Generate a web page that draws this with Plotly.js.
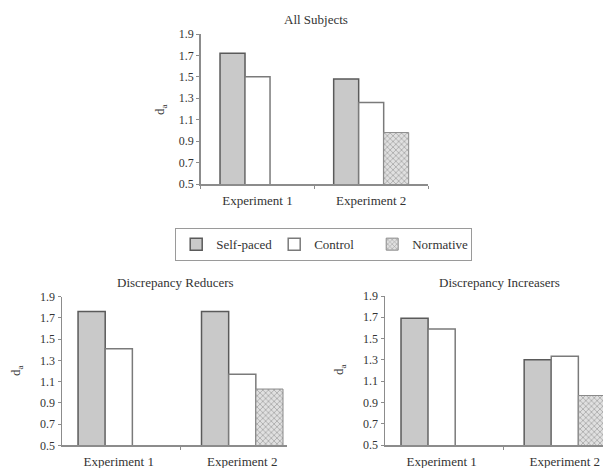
<!DOCTYPE html>
<html>
<head>
<meta charset="utf-8">
<script src="https://cdn.plot.ly/plotly-3.0.1.min.js"></script>
<style>
html, body { margin: 0; padding: 0; overflow: hidden; background: #fff; }
#chart { width: 630px; height: 468px; }
</style>
</head>
<body>
<div id="chart"></div>
<script>
// ---- data ----
const categories = ["Experiment 1", "Experiment 2"];
const seriesNames = ["Self-paced", "Control", "Normative"];
const panelTitles = ["All Subjects", "Discrepancy Reducers", "Discrepancy Increasers"];

const allSelfPaced = [1.72, 1.48];
const allControl = [1.50, 1.26];
const allNormative = [null, 0.98];

const reducersSelfPaced = [1.76, 1.76];
const reducersControl = [1.41, 1.17];
const reducersNormative = [null, 1.03];

const increasersSelfPaced = [1.69, 1.30];
const increasersControl = [1.59, 1.335];
const increasersNormative = [null, 0.965];

const yTickVals = [0.5, 0.7, 0.9, 1.1, 1.3, 1.5, 1.7, 1.9];
const yTickText = ["0.5", "0.7", "0.9", "1.1", "1.3", "1.5", "1.7", "1.9"];

// ---- styles ----
const FONT = "Liberation Serif";
const styles = [
  { color: "#c9c9c9", line: { color: "#5a5a5a", width: 1.5 } },
  { color: "#ffffff", line: { color: "#7a7a7a", width: 1.5 } },
  { color: "#d4d4d4", line: { color: "#8a8a8a", width: 1 },
    pattern: { shape: "x", fgcolor: "#9a9a9a", bgcolor: "#e0e0e0", size: 4, solidity: 0.3 } }
];

const panels = [
  { data: [allSelfPaced, allControl, allNormative], xa: "x", ya: "y" },
  { data: [reducersSelfPaced, reducersControl, reducersNormative], xa: "x2", ya: "y2" },
  { data: [increasersSelfPaced, increasersControl, increasersNormative], xa: "x3", ya: "y3" }
];

const traces = [];
panels.forEach((p, pi) => {
  p.data.forEach((vals, si) => {
    traces.push({
      type: "bar",
      x: categories,
      y: vals,
      name: seriesNames[si],
      xaxis: p.xa,
      yaxis: p.ya,
      marker: styles[si],
      showlegend: pi === 0,
      legendgroup: seriesNames[si],
      hoverinfo: "skip"
    });
  });
});

const W = 630, H = 468;
const px = v => v / W;
const py = v => 1 - v / H;

function xAxis(d0, d1, anchor, range) {
  return {
    domain: [px(d0), px(d1)],
    anchor: anchor,
    type: "category",
    range: range,
    showline: true, linecolor: "#8c8c8c", linewidth: 1.5,
    ticks: "outside", tickson: "boundaries", ticklen: 3, tickcolor: "#8c8c8c",
    ticklabelstandoff: 4,
    showgrid: false, zeroline: false,
    tickfont: { family: FONT, size: 13, color: "#333" },
    fixedrange: true
  };
}
function yAxis(top, bottom, anchor) {
  return {
    domain: [py(bottom), py(top)],
    anchor: anchor,
    range: [0.5, 1.9],
    tickvals: yTickVals, ticktext: yTickText,
    showline: true, linecolor: "#8c8c8c", linewidth: 1.5,
    ticks: "outside", ticklen: 3, tickcolor: "#8c8c8c",
    showgrid: false, zeroline: false,
    tickfont: { family: FONT, size: 12, color: "#333" },
    fixedrange: true
  };
}

const annFont = { family: FONT, size: 13, color: "#333" };
function ann(text, x, y, angle) {
  return { text: text, xref: "paper", yref: "paper", x: px(x), y: py(y),
           xanchor: "center", yanchor: "middle", showarrow: false,
           textangle: angle || 0, font: annFont };
}
const layout = {
  width: W, height: H,
  margin: { l: 0, r: 0, t: 0, b: 0 },
  paper_bgcolor: "#fff", plot_bgcolor: "#fff",
  font: { family: FONT, color: "#333" },
  barmode: "group", bargap: 0.34, bargroupgap: 0,
  xaxis: xAxis(200.7, 428, "y", [-0.5, 1.5]),
  yaxis: yAxis(34, 184, "x"),
  xaxis2: xAxis(62, 286.7, "y2", [-0.46, 1.36]),
  yaxis2: yAxis(296.7, 445.3, "x2"),
  xaxis3: xAxis(385, 611.6, "y3", [-0.46, 1.38]),
  yaxis3: yAxis(296, 445, "x3"),
  showlegend: true,
  legend: {
    orientation: "h",
    x: px(175), y: py(228), xanchor: "left", yanchor: "top",
    bordercolor: "#9a9a9a", borderwidth: 1.2, bgcolor: "#fff",
    font: { family: FONT, size: 13, color: "#333" },
    itemwidth: 30, traceorder: "normal", entrywidth: 53
  },
  annotations: [
    ann(panelTitles[0], 316, 20),
    ann(panelTitles[1], 175, 282),
    ann(panelTitles[2], 499, 282),
    ann("d<sub>a</sub>", 160, 110, -90),
    ann("d<sub>a</sub>", 16, 371, -90),
    ann("d<sub>a</sub>", 339, 370, -90)
  ]
};

Plotly.newPlot("chart", traces, layout, { staticPlot: true, displayModeBar: false });
</script>
</body>
</html>
